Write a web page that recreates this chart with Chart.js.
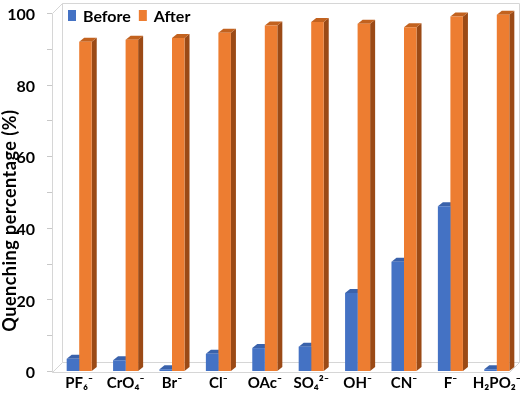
<!DOCTYPE html>
<html>
<head>
<meta charset="utf-8">
<script src="https://cdn.jsdelivr.net/npm/chart.js@4.4.1/dist/chart.umd.min.js"></script>
<style>
html,body{margin:0;padding:0;background:#fff;}
#wrap{width:532px;height:397px;position:relative;}
</style>
</head>
<body>
<div id="wrap"><canvas id="c"></canvas></div>
<script>
const categories = ["PF₆⁻", "CrO₄⁻", "Br⁻", "Cl⁻", "OAc⁻", "SO₄²⁻", "OH⁻", "CN⁻", "F⁻", "H₂PO₂⁻"];
const beforeValues = [3.4, 3.0, 0.5, 4.8, 6.4, 6.8, 21.8, 30.5, 46, 0.5];
const afterValues = [92, 92.5, 93, 94.5, 96.5, 97.5, 97, 96, 99, 99.5];
const yTickLabels = [0, 20, 40, 60, 80, 100];
const yTitle = "Quenching percentage (%)";

const FONT = "Lato, 'Open Sans', sans-serif";
const DEPTH_X = 5, DEPTH_Y = 4;

const shade = {
  0: { side: "#2d4f8f", top: "#3a62ab" },
  1: { side: "#9b4a16", top: "#c2621f" }
};

const frame3d = {
  id: "frame3d",
  beforeDatasetsDraw(chart) {
    const ctx = chart.ctx;
    const ca = chart.chartArea;
    const y = chart.scales.y;
    const y0 = Math.round(y.getPixelForValue(0)) + 1;
    const y100 = Math.round(y.getPixelForValue(100));
    const fl = ca.left - 4, fr = ca.right - 11; // front plane
    const dx = 10, dy = 10;
    ctx.save();
    ctx.strokeStyle = "#d6d6d6";
    ctx.lineWidth = 1;
    ctx.beginPath();
    // back wall
    ctx.moveTo(fl + dx + 0.5, y0 - dy + 0.5);
    ctx.lineTo(fl + dx + 0.5, y100 - dy + 0.5);
    ctx.lineTo(fr + dx + 0.5, y100 - dy + 0.5);
    ctx.lineTo(fr + dx + 0.5, y0 - dy + 0.5);
    ctx.lineTo(fl + dx + 0.5, y0 - dy + 0.5);
    // left side
    ctx.moveTo(fl + 0.5, y0 + 0.5);
    ctx.lineTo(fl + 0.5, y100 + 0.5);
    ctx.lineTo(fl + dx + 0.5, y100 - dy + 0.5);
    ctx.moveTo(fl + 0.5, y0 + 0.5);
    ctx.lineTo(fl + dx + 0.5, y0 - dy + 0.5);
    // floor front edge
    ctx.moveTo(fl + 0.5, y0 + 0.5);
    ctx.lineTo(fr + 0.5, y0 + 0.5);
    ctx.lineTo(fr + dx + 0.5, y0 - dy + 0.5);
    ctx.stroke();
    // y tick marks on front axis (every 10)
    ctx.strokeStyle = "#c8c8c8";
    ctx.beginPath();
    for (let v = 0; v <= 100; v += 10) {
      const py = Math.round(y.getPixelForValue(v)) + 0.5;
      ctx.moveTo(fl - 5, py);
      ctx.lineTo(fl, py);
    }
    ctx.stroke();

    // 3D side and top faces of bars
    chart.data.datasets.forEach((ds, di) => {
      const meta = chart.getDatasetMeta(di);
      meta.data.forEach((bar) => {
        const p = bar.getProps(["x", "y", "base", "width"], true);
        const l = p.x - p.width / 2, r = p.x + p.width / 2;
        ctx.fillStyle = shade[di].side;
        ctx.beginPath();
        ctx.moveTo(r, p.y);
        ctx.lineTo(r + DEPTH_X, p.y - DEPTH_Y);
        ctx.lineTo(r + DEPTH_X, p.base - DEPTH_Y);
        ctx.lineTo(r, p.base);
        ctx.closePath();
        ctx.fill();
        ctx.fillStyle = shade[di].top;
        ctx.beginPath();
        ctx.moveTo(l, p.y);
        ctx.lineTo(l + DEPTH_X, p.y - DEPTH_Y);
        ctx.lineTo(r + DEPTH_X, p.y - DEPTH_Y);
        ctx.lineTo(r, p.y);
        ctx.closePath();
        ctx.fill();
      });
    });
    ctx.restore();
  },
  afterDraw(chart) {
    const ctx = chart.ctx;
    const ca = chart.chartArea;
    ctx.save();
    // legend inside the plot, top-left
    ctx.font = "bold 16px " + FONT;
    ctx.textBaseline = "alphabetic";
    ctx.textAlign = "left";
    let x = ca.left + 12;
    const top = ca.top + 7;
    chart.data.datasets.forEach((ds) => {
      ctx.fillStyle = ds.backgroundColor;
      ctx.fillRect(x, top, 8, 11);
      ctx.fillStyle = "#000";
      ctx.fillText(ds.label, x + 15, top + 12);
      x += 15 + ctx.measureText(ds.label).width + 8;
    });
    // y axis title
    const y = chart.scales.y;
    ctx.font = "bold 18px " + FONT;
    if ("letterSpacing" in ctx) ctx.letterSpacing = "0.5px";
    ctx.textAlign = "center";
    ctx.textBaseline = "middle";
    ctx.translate(10.5, y.getPixelForValue(42));
    ctx.rotate(-Math.PI / 2);
    ctx.fillText(yTitle, 0, 0);
    ctx.restore();
  }
};

new Chart(document.getElementById("c"), {
  type: "bar",
  data: {
    labels: categories,
    datasets: [
      { label: "Before", data: beforeValues, backgroundColor: "#4472c4", borderWidth: 0 },
      { label: "After", data: afterValues, backgroundColor: "#ed7d31", borderWidth: 0 }
    ]
  },
  options: {
    responsive: true,
    maintainAspectRatio: false,
    animation: false,
    layout: { padding: { top: 3, right: 12, left: 0, bottom: 0 } },
    categoryPercentage: 0.54,
    barPercentage: 1.0,
    plugins: {
      legend: { display: false },
      tooltip: { enabled: false }
    },
    scales: {
      x: {
        grid: { display: false, drawTicks: false },
        border: { display: false },
        ticks: {
          color: "#000",
          padding: 3,
          maxRotation: 0,
          autoSkip: false,
          font: { family: FONT, size: 15, weight: "bold" }
        },
        afterFit(s) { s.height = 26; s.paddingLeft = 0; s.paddingRight = 0; }
      },
      y: {
        min: 0,
        max: 102.8,
        grid: { display: false, drawTicks: false },
        border: { display: false },
        afterBuildTicks(s) {
          s.ticks = yTickLabels.map(v => ({ value: v }));
        },
        ticks: {
          color: "#000",
          padding: 21,
          labelOffset: 2,
          font: { family: FONT, size: 16, weight: "bold" }
        },
        afterFit(s) { s.width = 56; s.paddingTop = 0; s.paddingBottom = 0; }
      }
    }
  },
  plugins: [frame3d]
});
</script>
</body>
</html>
